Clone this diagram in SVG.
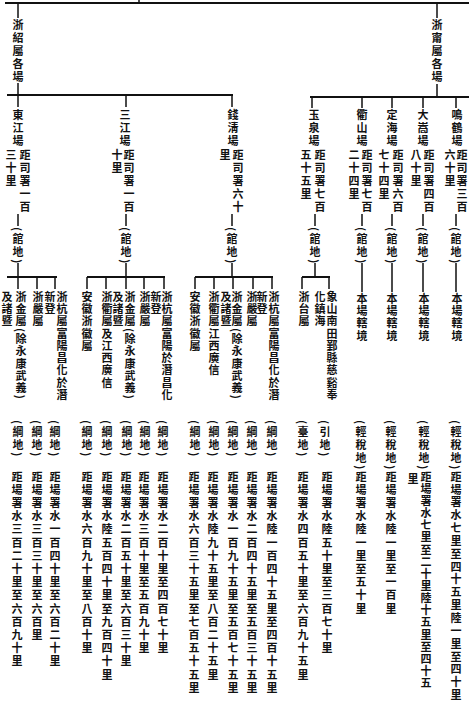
<svg xmlns="http://www.w3.org/2000/svg" width="469" height="706" viewBox="0 0 469 706">
<style>
text { font-family: "Noto Sans CJK TC", "Noto Sans CJK SC", sans-serif; font-size: 11px; font-weight: 700; writing-mode: vertical-rl; fill: #111; }
.n { letter-spacing: 2px; }
.l { letter-spacing: 1.3px; }
.d { letter-spacing: 2.2px; }
.d2 { letter-spacing: 1.85px; }
.d3 { letter-spacing: 1.15px; }
.h { stroke: #111; stroke-width: 2; fill: none; }
.v { stroke: #111; stroke-width: 1.5; fill: none; }
</style>
<rect width="469" height="706" fill="#fff"/>
<g id="connectors">
<path class="h" d="M5 3H469"/>
<path class="v" d="M139 0V3"/>
<path class="v" d="M18 3V18M18 83V95M437 3V18M437 84V97"/>
<path class="h" d="M7 95H233M310 97H469"/>
<path class="v" d="M18 95V107M126 95V107M232 95V107M312 97V108M362 97V108M392 97V108M423 97V108M456 97V108"/>
<path class="v" d="M18 214V226M18 263V277M126 214V226M126 263V277M232 214V226M232 263V277M315 214V226M315 263V277"/>
<path class="v" d="M362 214V226M362 263V292M392 214V226M392 263V292M423 214V226M423 263V292M456 214V226M456 263V292"/>
<path class="h" d="M7 277H57M87 277H165M195 277H273M302 277H330"/>
<path class="v" d="M18 277V289M37 277V289M55 277V289M87 277V289M106 277V289M126 277V289M144 277V289M164 277V289M195 277V289M214 277V289M233 277V289M253 277V289M272 277V289M302 277V289M329 277V289"/>
</g>
<g id="zheshao">
<text class="n" x="18" y="19">浙紹屬各場</text>
</g>
<g id="zhening">
<text class="n" x="437" y="19">浙甯屬各場</text>
</g>
<g id="dongjiang">
<text class="n" x="18" y="109">東江場</text>
<text class="n" x="25" y="149">距司署一百</text>
<text class="n" x="11" y="149">三十里</text>
<text class="n" x="18" y="227">(館地)</text>
</g>
<g id="sanjiang">
<text class="n" x="125" y="109">三江場</text>
<text class="n" x="129" y="149">距司署一百</text>
<text class="n" x="117" y="149">十里</text>
<text class="n" x="126" y="227">(館地)</text>
</g>
<g id="qianqing">
<text class="n" x="233" y="109">錢淸場</text>
<text class="n" x="238" y="149">距司署六十</text>
<text class="n" x="225" y="149">里</text>
<text class="n" x="232" y="227">(館地)</text>
</g>
<g id="yuquan">
<text class="n" x="314" y="109">玉泉場</text>
<text class="n" x="320" y="149">距司署七百</text>
<text class="n" x="306" y="149">五十五里</text>
<text class="n" x="315" y="227">(館地)</text>
</g>
<g id="qushan">
<text class="n" x="362" y="109">衢山場</text>
<text class="n" x="367" y="149">距司署七百</text>
<text class="n" x="354" y="149">二十四里</text>
<text class="n" x="362" y="227">(館地)</text>
</g>
<g id="dinghai">
<text class="n" x="392" y="109">定海場</text>
<text class="n" x="398" y="149">距司署六百</text>
<text class="n" x="384" y="149">七十四里</text>
<text class="n" x="392" y="227">(館地)</text>
</g>
<g id="dasong">
<text class="n" x="423" y="109">大嵩場</text>
<text class="n" x="429" y="149">距司署四百</text>
<text class="n" x="416" y="149">八十里</text>
<text class="n" x="423" y="227">(館地)</text>
</g>
<g id="minghe">
<text class="n" x="457" y="109">鳴鶴場</text>
<text class="n" x="462" y="149">距司署三百</text>
<text class="n" x="450" y="149">六十里</text>
<text class="n" x="456" y="227">(館地)</text>
</g>
<g id="dj-hang">
<text class="l" x="62" y="291">浙杭屬富陽昌化於潛</text>
<text class="l" x="50" y="291">新登</text>
<text class="n" x="55" y="420">(綱地)</text>
<text class="d" x="55" y="471">距場署水一百四十里至六百二十里</text>
</g>
<g id="dj-yan">
<text class="l" x="38" y="291">浙嚴屬</text>
<text class="n" x="37" y="420">(綱地)</text>
<text class="d" x="37" y="471">距場署水三百三十里至六百里</text>
</g>
<g id="dj-jin">
<text class="l" x="21" y="291">浙金屬(除永康武義)</text>
<text class="l" x="7" y="291">及諸暨</text>
<text class="n" x="18" y="420">(綱地)</text>
<text class="d" x="17" y="471">距場署水三百二十里至六百九十里</text>
</g>
<g id="sj-hang">
<text class="l" x="167" y="291">浙杭屬富陽於潛昌化</text>
<text class="l" x="156" y="291">新登</text>
<text class="n" x="163" y="420">(綱地)</text>
<text class="d" x="163" y="471">距場署水二百十里至四百七十里</text>
</g>
<g id="sj-yan">
<text class="l" x="145" y="291">浙嚴屬</text>
<text class="n" x="145" y="420">(綱地)</text>
<text class="d" x="144" y="471">距場署水三百十里至五百九十里</text>
</g>
<g id="sj-jin">
<text class="l" x="130" y="291">浙金屬(除永康武義)</text>
<text class="l" x="118" y="291">及諸暨</text>
<text class="n" x="127" y="420">(綱地)</text>
<text class="d" x="126" y="471">距場署水二百五十里至六百三十里</text>
</g>
<g id="sj-qu">
<text class="l" x="107" y="291">浙衢屬及江西廣信</text>
<text class="n" x="107" y="420">(綱地)</text>
<text class="d" x="107" y="471">距場署水陸五百四十里至九百四十里</text>
</g>
<g id="sj-hui">
<text class="l" x="87" y="291">安徽浙徽屬</text>
<text class="n" x="87" y="420">(綱地)</text>
<text class="d" x="87" y="471">距場署水六百九十里至八百十里</text>
</g>
<g id="qq-hang">
<text class="l" x="274" y="291">浙杭屬富陽昌化於潛</text>
<text class="l" x="262" y="291">新登</text>
<text class="n" x="272" y="420">(綱地)</text>
<text class="d" x="272" y="471">距場署水陸一百四十五里至四百十五里</text>
</g>
<g id="qq-yan">
<text class="l" x="252" y="291">浙嚴屬</text>
<text class="n" x="252" y="420">(綱地)</text>
<text class="d" x="252" y="471">距場署水二百四十五里至五百三十五里</text>
</g>
<g id="qq-jin">
<text class="l" x="237" y="291">浙金屬(除永康武義)</text>
<text class="l" x="226" y="291">及諸暨</text>
<text class="n" x="233" y="420">(綱地)</text>
<text class="d" x="233" y="471">距場署水一百九十五里至五百七十五里</text>
</g>
<g id="qq-qu">
<text class="l" x="214" y="291">浙衢屬江西廣信</text>
<text class="n" x="214" y="420">(綱地)</text>
<text class="d" x="213" y="471">距場署水陸九十五里至八百二十五里</text>
</g>
<g id="qq-hui">
<text class="l" x="195" y="291">安徽浙徽屬</text>
<text class="n" x="195" y="420">(綱地)</text>
<text class="d" x="194" y="471">距場署水六百三十五里至七百五十五里</text>
</g>
<g id="yq-tai">
<text class="l" x="304" y="291">浙台屬</text>
<text class="n" x="303" y="420">(臺地)</text>
<text class="d" x="303" y="471">距場署水四百五十里至六百九十五里</text>
</g>
<g id="yq-ning">
<text class="l" x="332" y="291">象山南田鄞縣慈谿奉</text>
<text class="l" x="320" y="291">化鎮海</text>
<text class="n" x="325" y="420">(引地)</text>
<text class="d" x="327" y="471">距場署水陸五十里至三百七十里</text>
</g>
<g id="qs-local">
<text class="l" x="362" y="293">本場轄境</text>
<text class="n" x="361" y="420">(輕稅地)</text>
<text class="d" x="361" y="471">距場署水陸一里至五十里</text>
</g>
<g id="dh-local">
<text class="l" x="392" y="293">本場轄境</text>
<text class="n" x="391" y="420">(輕稅地)</text>
<text class="d" x="391" y="471">距場署水陸一里至一百里</text>
</g>
<g id="ds-local">
<text class="l" x="424" y="293">本場轄境</text>
<text class="n" x="424" y="420">(輕稅地)</text>
<text class="d3" x="426" y="471">距場署水七里至二十里陸十五里至四十五</text>
<text class="d" x="413" y="473">里</text>
</g>
<g id="mh-local">
<text class="l" x="457" y="293">本場轄境</text>
<text class="n" x="456" y="420">(輕稅地)</text>
<text class="d2" x="456" y="471">距場署水七里至四十五里陸一里至四十里</text>
</g>
</svg>
